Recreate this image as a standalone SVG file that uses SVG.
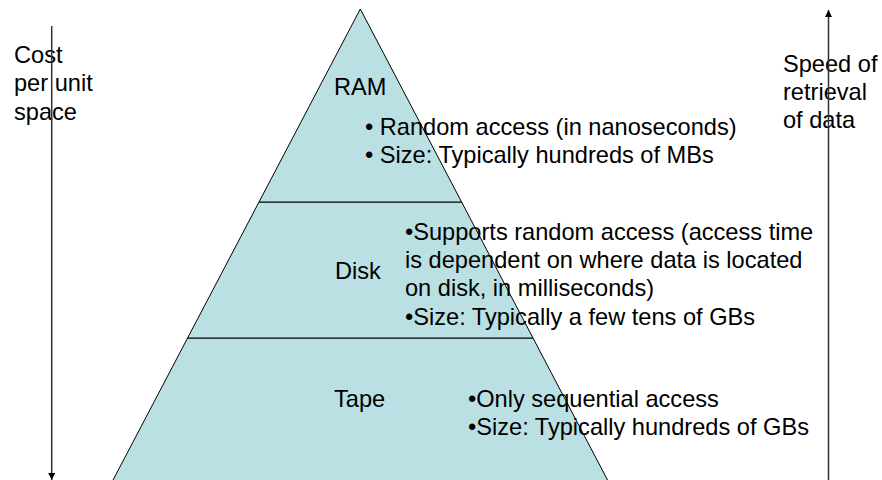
<svg xmlns="http://www.w3.org/2000/svg" width="882" height="480" viewBox="0 0 882 480">
  <style>
    .layer { fill: #bbe0e3; stroke: #000; stroke-width: 1; }
    .t { font-family: "Liberation Sans", Arial, Helvetica, sans-serif; font-size: 23.6px; fill: #000; }
    .axis { stroke: #333; stroke-width: 1.5; fill: none; }
  </style>
  <defs>
    <marker id="head" viewBox="0 0 10 10" refX="10" refY="5" markerWidth="7" markerHeight="7" markerUnits="userSpaceOnUse" orient="auto">
      <path d="M0,0 L10,5 L0,10 Z" fill="#000"/>
    </marker>
  </defs>

  <rect width="882" height="480" fill="#fff"/>

  <!-- storage hierarchy pyramid -->
  <g id="tape">
    <polygon class="layer" points="187.6,338 533,338 612.8,490 107.8,490"/>
    <text class="t" x="334" y="406.5">Tape</text>
    <text class="t" x="468" y="406.5">•Only sequential access</text>
    <text class="t" x="468" y="434.5">•Size: Typically hundreds of GBs</text>
  </g>

  <g id="disk">
    <polygon class="layer" points="259,202 461.6,202 533,338 187.6,338"/>
    <text class="t" x="335" y="279">Disk</text>
    <text class="t" x="405" y="239.5">•Supports random access (access time</text>
    <text class="t" x="405" y="267.5">is dependent on where data is located</text>
    <text class="t" x="405" y="296">on disk, in milliseconds)</text>
    <text class="t" x="405" y="324.5">•Size: Typically a few tens of GBs</text>
  </g>

  <g id="ram">
    <polygon class="layer" points="360.3,9 461.6,202 259,202"/>
    <text class="t" x="334" y="95">RAM</text>
    <text class="t" x="365" y="135">• Random access (in nanoseconds)</text>
    <text class="t" x="365" y="163">• Size: Typically hundreds of MBs</text>
  </g>

  <!-- axis labels -->
  <g id="cost-label">
    <text class="t" x="14" y="62.5">Cost</text>
    <text class="t" x="14" y="91">per unit</text>
    <text class="t" x="14" y="119.5">space</text>
  </g>
  <g id="speed-label">
    <text class="t" x="783" y="71.5">Speed of</text>
    <text class="t" x="783" y="100">retrieval</text>
    <text class="t" x="783" y="128">of data</text>
  </g>

  <!-- axis arrows -->
  <g id="connectors">
    <line class="axis" x1="51.7" y1="26" x2="51.7" y2="480" marker-end="url(#head)"/>
    <line class="axis" x1="828.5" y1="480" x2="828.5" y2="10" marker-end="url(#head)"/>
  </g>
</svg>
